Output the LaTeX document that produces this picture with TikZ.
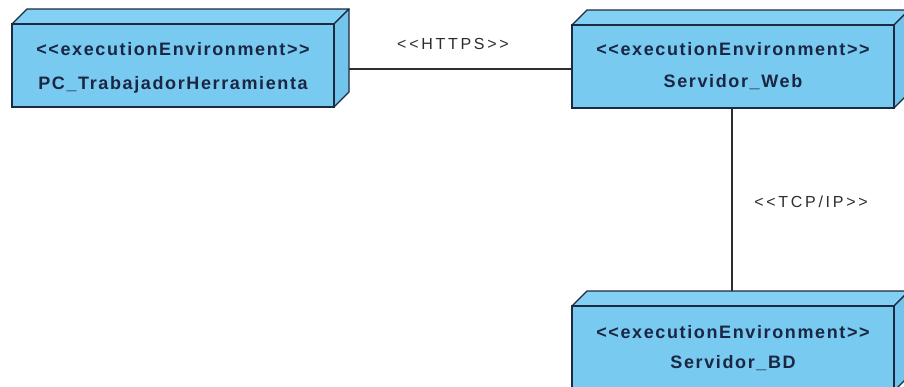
\documentclass[tikz,border=0pt]{standalone}
\usepackage{fontspec}
\newfontfamily\dfont{Liberation Sans}
\definecolor{nodefill}{RGB}{120,202,240}
\definecolor{nodetop}{RGB}{130,208,243}
\definecolor{nodeside}{RGB}{114,196,236}
\definecolor{edgecol}{RGB}{28,42,66}
\definecolor{txtcol}{RGB}{26,38,66}
\definecolor{linecol}{RGB}{45,45,45}
\begin{document}
\begin{tikzpicture}[x=1pt,y=-1pt,
  front/.style={draw=edgecol, fill=nodefill, line width=1.3pt, minimum width=322pt, minimum height=83pt, inner sep=0pt, outer sep=0pt, anchor=north west},
  topface/.style={draw=edgecol, fill=nodetop, line width=1.3pt, line join=round},
  sideface/.style={draw=edgecol, fill=nodeside, line width=1.3pt, line join=round},
  title/.style={font=\dfont\fontsize{18}{21}\selectfont\bfseries\addfontfeature{LetterSpace=9}, text=txtcol, anchor=base, inner sep=0pt},
  conn/.style={draw=linecol, line width=1.4pt},
  lab/.style={font=\dfont\fontsize{16}{19}\selectfont\addfontfeature{LetterSpace=17}, text=linecol, inner sep=0pt}
]
\useasboundingbox (0,0) rectangle (904,386);
\clip (0,0) rectangle (904,386);
\fill[white] (0,0) rectangle (904,386);

\node[front] (pc) at (12,24) {};
\node[front] (web) at (572,25) {};
\node[front, minimum height=85pt] (bd) at (572,306) {};
\coordinate (bdtop) at ([yshift=15pt]bd.north);
\coordinate (hl) at ([yshift=-2.5pt]web.west);
\draw[conn] (hl -| pc.east) -- (hl);
\draw[conn] ([xshift=-1pt]web.south) -- ([xshift=-1pt]bdtop);

\foreach \n in {pc,web,bd}{
  \draw[topface] (\n.north west) -- ([shift={(15,-15)}]\n.north west) -- ([shift={(15,-15)}]\n.north east) -- (\n.north east) -- cycle;
  \draw[sideface] (\n.north east) -- ([shift={(15,-15)}]\n.north east) -- ([shift={(15,-15)}]\n.south east) -- (\n.south east) -- cycle;
  \node[front] at (\n.north west) {};
}

\node[title] (pcs) at ([yshift=-31pt]pc.north) {<<executionEnvironment>>};
\node[title] (pcn) at ([yshift=-65pt]pc.north) {PC\_TrabajadorHerramienta};
\node[title] (webs) at ([yshift=-30pt]web.north) {<<executionEnvironment>>};
\node[title] (webn) at ([yshift=-62pt]web.north) {Servidor\_Web};
\node[title] (bds) at ([yshift=-32pt]bd.north) {<<executionEnvironment>>};
\node[title] (bdn) at ([yshift=-62pt]bd.north) {Servidor\_BD};

\node[lab] (https) at (453,44) {<<HTTPS>>};
\node[lab] (tcp) at (811,202) {<<TCP/IP>>};
\end{tikzpicture}
\end{document}
